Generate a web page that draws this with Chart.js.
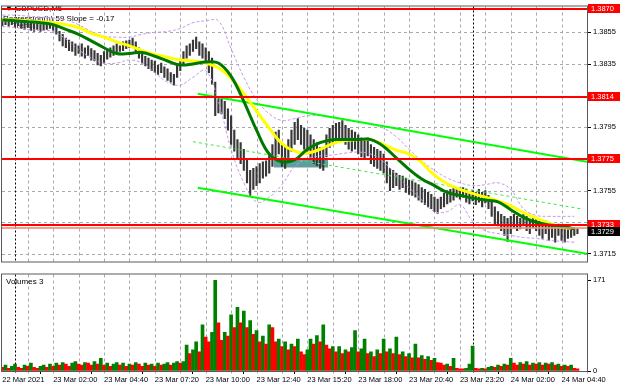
<!DOCTYPE html>
<html>
<head>
<meta charset="utf-8">
<script src="https://cdn.jsdelivr.net/npm/chart.js@4"></script>
<style>
  html, body { margin: 0; padding: 0; background: #fff; }
  #wrap { position: relative; width: 620px; height: 388px; overflow: hidden; background: #fff; }
  canvas { position: absolute; left: 0; }
</style>
</head>
<body>
<div id="wrap">
  <canvas id="priceChart" width="620" height="268" style="top:0"></canvas>
  <canvas id="volChart" width="620" height="120" style="top:268px"></canvas>
</div>
<script>
// GBPUSD M5, one entry per two 5-minute bars (bar 0 = 22 Mar 23:20)
const highs = [
  1.38629,1.38635,1.38623,1.38641,1.38629,1.38635,1.38623,1.38617,1.38629,1.38611,
  1.38605,1.38617,1.38599,1.38611,1.38605,1.38617,1.38611,1.38593,1.38556,1.38538,
  1.38514,1.38502,1.38490,1.38478,1.38465,1.38478,1.38453,1.38465,1.38447,1.38435,
  1.38417,1.38405,1.38429,1.38441,1.38453,1.38465,1.38478,1.38465,1.38490,1.38496,
  1.38502,1.38514,1.38490,1.38453,1.38417,1.38399,1.38387,1.38375,1.38369,1.38344,
  1.38356,1.38332,1.38320,1.38296,1.38284,1.38344,1.38381,1.38429,1.38465,1.38478,
  1.38502,1.38520,1.38490,1.38478,1.38453,1.38429,1.38387,1.38235,1.38144,1.38126,
  1.38114,1.38066,1.38023,1.37932,1.37872,1.37853,1.37811,1.37750,1.37678,1.37690,
  1.37702,1.37720,1.37732,1.37738,1.37781,1.37841,1.37920,1.37932,1.37841,1.37823,
  1.37872,1.37932,1.37981,1.38005,1.37963,1.37944,1.37932,1.37902,1.37872,1.37853,
  1.37823,1.37811,1.37902,1.37944,1.37963,1.37975,1.37981,1.37993,1.37963,1.37944,
  1.37932,1.37920,1.37902,1.37884,1.37872,1.37884,1.37841,1.37823,1.37811,1.37799,
  1.37781,1.37732,1.37690,1.37678,1.37660,1.37647,1.37641,1.37629,1.37617,1.37611,
  1.37599,1.37587,1.37569,1.37557,1.37538,1.37526,1.37508,1.37496,1.37508,1.37532,
  1.37550,1.37557,1.37569,1.37557,1.37550,1.37569,1.37557,1.37538,1.37550,1.37538,
  1.37557,1.37538,1.37550,1.37520,1.37477,1.37447,1.37417,1.37399,1.37387,1.37375,
  1.37387,1.37399,1.37387,1.37375,1.37399,1.37387,1.37369,1.37387,1.37375,1.37357,
  1.37338,1.37357,1.37338,1.37326,1.37314,1.37338,1.37326,1.37308,1.37314,1.37302,
  1.37314,1.37308
];
const lows = [
  1.38593,1.38599,1.38587,1.38599,1.38581,1.38593,1.38575,1.38569,1.38581,1.38562,
  1.38556,1.38569,1.38556,1.38562,1.38569,1.38575,1.38562,1.38538,1.38496,1.38465,
  1.38453,1.38435,1.38429,1.38405,1.38417,1.38399,1.38387,1.38405,1.38375,1.38369,
  1.38344,1.38338,1.38356,1.38381,1.38393,1.38405,1.38417,1.38429,1.38435,1.38447,
  1.38453,1.38465,1.38429,1.38387,1.38356,1.38338,1.38320,1.38308,1.38296,1.38284,
  1.38296,1.38266,1.38247,1.38235,1.38217,1.38266,1.38308,1.38344,1.38387,1.38405,
  1.38429,1.38447,1.38405,1.38387,1.38369,1.38296,1.38223,1.38023,1.38041,1.38035,
  1.38005,1.37932,1.37841,1.37799,1.37750,1.37720,1.37678,1.37599,1.37520,1.37557,
  1.37581,1.37599,1.37629,1.37641,1.37660,1.37702,1.37750,1.37781,1.37702,1.37690,
  1.37738,1.37799,1.37841,1.37872,1.37841,1.37811,1.37781,1.37750,1.37720,1.37708,
  1.37690,1.37678,1.37763,1.37823,1.37841,1.37853,1.37872,1.37884,1.37841,1.37811,
  1.37799,1.37811,1.37781,1.37763,1.37750,1.37769,1.37720,1.37702,1.37690,1.37678,
  1.37660,1.37599,1.37550,1.37569,1.37581,1.37557,1.37569,1.37538,1.37526,1.37520,
  1.37508,1.37490,1.37477,1.37460,1.37447,1.37435,1.37417,1.37405,1.37435,1.37447,
  1.37466,1.37477,1.37490,1.37508,1.37496,1.37508,1.37477,1.37466,1.37484,1.37460,
  1.37477,1.37447,1.37472,1.37435,1.37387,1.37338,1.37326,1.37296,1.37266,1.37229,
  1.37278,1.37314,1.37296,1.37308,1.37326,1.37296,1.37278,1.37314,1.37296,1.37266,
  1.37247,1.37278,1.37235,1.37253,1.37223,1.37266,1.37235,1.37223,1.37247,1.37253,
  1.37266,1.37278
];
const volumes = [
  7,11,5,9,13,7,5,11,9,15,7,5,9,11,7,13,
  9,15,11,16,13,9,15,18,13,11,16,15,11,18,13,24,
  11,15,9,13,16,11,15,9,13,11,16,13,9,15,11,13,9,15,11,13,16,11,15,18,
  15,18,49,33,40,55,36,87,64,55,73,171,
  91,58,73,66,106,82,120,91,113,82,95,69,
  76,55,66,51,87,82,55,60,46,55,40,51,
  46,60,36,31,40,60,51,67,55,87,49,42,
  46,36,46,33,40,36,44,76,36,42,60,33,
  36,27,40,33,60,36,42,33,64,31,36,27,
  33,25,51,25,29,22,27,20,24,16,15,11,
  13,9,24,5,4,4,5,13,47,5,4,5,
  4,7,9,7,11,9,13,11,24,15,11,16,
  13,18,11,15,13,16,11,15,13,16,11,13,
  9,11,9,11,5,4
];

// indicators, one value every 8 bars
const maYellow = [
  1.38629,1.38629,1.38623,1.38617,1.38611,1.38599,1.38581,1.38544,1.38520,1.38490,
  1.38465,1.38435,1.38411,1.38393,1.38375,1.38369,1.38356,1.38326,1.38259,1.38162,
  1.38053,1.37944,1.37847,1.37799,1.37787,1.37811,1.37847,1.37866,1.37872,1.37872,
  1.37841,1.37805,1.37781,1.37726,1.37647,1.37593,1.37557,1.37532,1.37508,1.37484,
  1.37453,1.37411,1.37375,1.37344,1.37320,1.37308
];
const maGreen = [
  1.38629,1.38623,1.38617,1.38611,1.38599,1.38569,1.38538,1.38496,1.38453,1.38417,
  1.38417,1.38423,1.38399,1.38369,1.38344,1.38350,1.38362,1.38356,1.38272,1.38114,
  1.37932,1.37781,1.37732,1.37744,1.37811,1.37853,1.37872,1.37872,1.37872,1.37872,
  1.37829,1.37756,1.37684,1.37623,1.37581,1.37538,1.37520,1.37502,1.37490,1.37478,
  1.37429,1.37381,1.37350,1.37332,1.37326,1.37308
];
const bandUpper = [
  1.38659,1.38659,1.38653,1.38647,1.38641,1.38629,1.38599,1.38556,1.38526,1.38520,
  1.38520,1.38538,1.38550,1.38556,1.38575,1.38611,1.38623,1.38623,1.38447,1.38266,
  1.38126,1.38035,1.37993,1.38005,1.38023,1.38023,1.38011,1.37999,1.37987,1.37969,
  1.37944,1.37890,1.37811,1.37738,1.37678,1.37629,1.37599,1.37581,1.37587,1.37599,
  1.37557,1.37435,1.37393,1.37387,1.37387,1.37387
];
const bandLower = [
  1.38587,1.38581,1.38569,1.38562,1.38556,1.38508,1.38441,1.38387,1.38356,1.38356,
  1.38375,1.38356,1.38296,1.38235,1.38217,1.38266,1.38308,1.38114,1.37811,1.37599,
  1.37478,1.37508,1.37587,1.37702,1.37750,1.37769,1.37775,1.37787,1.37793,1.37781,
  1.37732,1.37647,1.37569,1.37490,1.37417,1.37417,1.37460,1.37356,1.37296,1.37278,
  1.37266,1.37253,1.37247,1.37235,1.37229,1.37223
];

// drawn objects
const levels = [1.3870, 1.3814, 1.3775, 1.3733];
const bidLine = 1.37314;
const lastPrice = 1.3729;
const chanBars = [123, 368];
const chanUpper = [1.38162, 1.37732];
const chanLower = [1.37568, 1.37150];
const chanMidBars = [120, 364];
const chanMid = [1.37859, 1.37435];
const rectBars = [171, 205];
const rectPrice = [1.37750, 1.37695];
const separators = [8, 296];

// axes
const priceTicks = [1.3715, 1.3735, 1.3755, 1.3775, 1.3795, 1.3815, 1.3835, 1.3855];
const timeLabels = ['22 Mar 2021', '23 Mar 02:00', '23 Mar 04:40', '23 Mar 07:20', '23 Mar 10:00', '23 Mar 12:40',
  '23 Mar 15:20', '23 Mar 18:00', '23 Mar 20:40', '23 Mar 23:20', '24 Mar 02:00', '24 Mar 04:40'];

const barK = highs.map((_, i) => i * 2);
const maK = maYellow.map((_, j) => j * 8);
const gridK = timeLabels.flatMap((_, j) => [j * 32, j * 32 + 16]).filter(k => k > 0);
const pts = (ks, vals) => vals.map((v, i) => ({x: ks[i], y: v}));
const volColors = volumes.map((v, i) => (i > 0 && v > volumes[i - 1]) ? '#008000' : '#ff0000');

const FONT = '"Liberation Sans", Arial, sans-serif';
const X_MIN = -0.2, X_MAX = 368;
const GRID = 'rgb(168,168,180)';

function line(ctx, x0, y0, x1, y1) {
  ctx.beginPath(); ctx.moveTo(x0, y0); ctx.lineTo(x1, y1); ctx.stroke();
}
// dotted grid, drawn as short filled segments
function gridLines(chart, withRows) {
  const {ctx, chartArea: a, scales: {x, y}} = chart;
  ctx.save();
  ctx.fillStyle = GRID;
  gridK.forEach(k => {
    const px = Math.round(x.getPixelForValue(k));
    for (let py = a.top; py < a.bottom; py += 6) ctx.fillRect(px, py, 1, 3);
  });
  if (withRows) {
    priceTicks.forEach(v => {
      const py = Math.round(y.getPixelForValue(v));
      for (let px = a.left; px < a.right; px += 6) ctx.fillRect(px, py, 3, 1);
    });
  }
  ctx.fillStyle = '#000';
  separators.forEach(k => {
    const px = Math.round(x.getPixelForValue(k));
    for (let py = a.top; py < a.bottom; py += 4) ctx.fillRect(px, py, 1, 2);
  });
  ctx.restore();
}
function frame(chart) {
  const {ctx, chartArea: a} = chart;
  ctx.save();
  ctx.strokeStyle = '#5a5a5a'; ctx.lineWidth = 1;
  ctx.strokeRect(a.left - 0.5, a.top - 0.5, a.right - a.left + 1, a.bottom - a.top + 1);
  ctx.restore();
}

const priceDecor = {
  id: 'priceDecor',
  beforeDatasetsDraw(chart) {
    gridLines(chart, true);
    const {ctx} = chart;
    ctx.save();
    ctx.fillStyle = '#000'; ctx.textBaseline = 'middle';
    ctx.font = '8px ' + FONT;
    ctx.fillText('\u25BC GBPUSD,M5', 5, 9);
    ctx.fillText('Regression(h) 59 Slope = -0.17', 3, 19);
    ctx.fillText('Trend', 12, 26);
    ctx.restore();
  },
  afterDatasetsDraw(chart) {
    const {ctx, chartArea: a, scales: {y}} = chart;
    ctx.save();
    ctx.strokeStyle = 'rgba(245,140,120,0.85)'; ctx.lineWidth = 2;
    let py = Math.round(y.getPixelForValue(bidLine));
    line(ctx, a.left, py, a.right, py);
    ctx.strokeStyle = '#ff0000';
    levels.forEach(v => {
      py = Math.round(y.getPixelForValue(v));
      line(ctx, a.left, py, a.right, py);
    });
    ctx.restore();
  },
  afterDraw(chart) {
    frame(chart);
    const {ctx, chartArea: a, scales: {y}} = chart;
    ctx.save();
    ctx.font = '7.5px ' + FONT; ctx.textBaseline = 'middle';
    const box = (v, bg) => {
      const py = Math.round(y.getPixelForValue(v));
      ctx.fillStyle = bg;
      ctx.fillRect(a.right + 1, py - 5, 32, 9);
      ctx.fillStyle = '#fff';
      ctx.fillText(v.toFixed(4), a.right + 4, py);
    };
    levels.forEach(v => box(v, '#ff0000'));
    box(lastPrice, '#000');
    ctx.restore();
  }
};

const volDecor = {
  id: 'volDecor',
  beforeDatasetsDraw(chart) { gridLines(chart, false); },
  afterDraw(chart) {
    frame(chart);
    const {ctx, chartArea: a} = chart;
    ctx.save();
    ctx.fillStyle = '#000'; ctx.font = '8px ' + FONT; ctx.textBaseline = 'middle';
    ctx.fillText('Volumes 3', a.left + 4, a.top + 7);
    ctx.restore();
  }
};

const axisFont = {family: FONT, size: 7.5};
const hiddenTick = v => levels.some(l => Math.abs(l - v) < 0.0003);

new Chart(document.getElementById('priceChart'), {
  type: 'bar',
  data: {
    datasets: [
      {type: 'line', data: pts(maK, maGreen), borderColor: '#007800', borderWidth: 3,
       pointRadius: 0, tension: 0.4, order: 1},
      {type: 'line', data: pts(maK, maYellow), borderColor: '#ffff00', borderWidth: 3,
       pointRadius: 0, tension: 0.4, order: 2},
      {type: 'line', data: pts(chanBars, chanUpper), borderColor: '#00ff00', borderWidth: 2,
       pointRadius: 0, order: 3},
      {type: 'line', data: pts(chanBars, chanLower), borderColor: '#00ff00', borderWidth: 2,
       pointRadius: 0, order: 3},
      {type: 'line', data: pts(chanMidBars, chanMid), borderColor: '#3ee83e', borderWidth: 1,
       borderDash: [3, 3], pointRadius: 0, order: 3},
      {type: 'line', data: pts(maK, bandUpper), borderColor: '#c79ae6', borderWidth: 1,
       borderDash: [3, 2], pointRadius: 0, tension: 0.4, order: 4},
      {type: 'line', data: pts(maK, bandLower), borderColor: '#c79ae6', borderWidth: 1,
       borderDash: [3, 2], pointRadius: 0, tension: 0.4, order: 4},
      {type: 'bar', data: highs.map((h, i) => ({x: barK[i], y: [lows[i], h]})),
       backgroundColor: '#383838', borderWidth: 0, barThickness: 1.5, grouped: false, order: 5},
      {type: 'line', data: pts(rectBars, [rectPrice[0], rectPrice[0]]),
       fill: {value: rectPrice[1]}, backgroundColor: '#5f9ea0', borderColor: 'transparent',
       borderWidth: 0, pointRadius: 0, order: 6}
    ]
  },
  options: {
    responsive: false, animation: false, devicePixelRatio: 1,
    layout: {padding: {left: 2, top: 1, right: 0, bottom: 1}},
    plugins: {legend: {display: false}, tooltip: {enabled: false}},
    scales: {
      x: {type: 'linear', min: X_MIN, max: X_MAX, offset: false,
          grid: {display: false}, border: {display: false}, ticks: {display: false},
          afterFit: s => { s.height = 0; }},
      y: {position: 'right', min: 1.371015, max: 1.387136,
          afterBuildTicks: s => { s.ticks = priceTicks.map(v => ({value: v})); },
          afterFit: s => { s.width = 33; },
          grid: {drawOnChartArea: false, tickLength: 4, tickColor: '#000'},
          border: {display: false},
          ticks: {color: '#000', padding: 2, font: axisFont,
                  callback: v => hiddenTick(v) ? '' : v.toFixed(4)}}
    }
  },
  plugins: [priceDecor]
});

new Chart(document.getElementById('volChart'), {
  type: 'bar',
  data: {
    datasets: [{data: volumes.map((v, i) => ({x: barK[i], y: v})), backgroundColor: volColors,
                borderWidth: 0, barThickness: 3, grouped: false}]
  },
  options: {
    responsive: false, animation: false, devicePixelRatio: 1,
    layout: {padding: {left: 2, top: 2, right: 0, bottom: 0}},
    plugins: {legend: {display: false}, tooltip: {enabled: false}},
    scales: {
      x: {type: 'linear', min: X_MIN, max: X_MAX, offset: false,
          afterBuildTicks: s => { s.ticks = [0].concat(gridK).map(v => ({value: v})); },
          afterFit: s => { s.height = 17; },
          grid: {drawOnChartArea: false, tickLength: 3,
                 tickColor: c => (c.tick && c.tick.value % 32 === 0) ? '#000' : 'rgba(0,0,0,0)'},
          border: {display: false},
          ticks: {autoSkip: false, maxRotation: 0, minRotation: 0, align: 'start', padding: 1,
                  color: '#000', font: axisFont,
                  callback: v => v % 32 === 0 ? timeLabels[v / 32] : ''}},
      y: {position: 'right', min: 0, max: 182,
          afterBuildTicks: s => { s.ticks = [{value: 0}, {value: 171}]; },
          afterFit: s => { s.width = 33; },
          grid: {drawOnChartArea: false, tickLength: 4, tickColor: '#000'},
          border: {display: false},
          ticks: {color: '#000', padding: 2, font: axisFont}}
    }
  },
  plugins: [volDecor]
});
</script>
</body>
</html>
